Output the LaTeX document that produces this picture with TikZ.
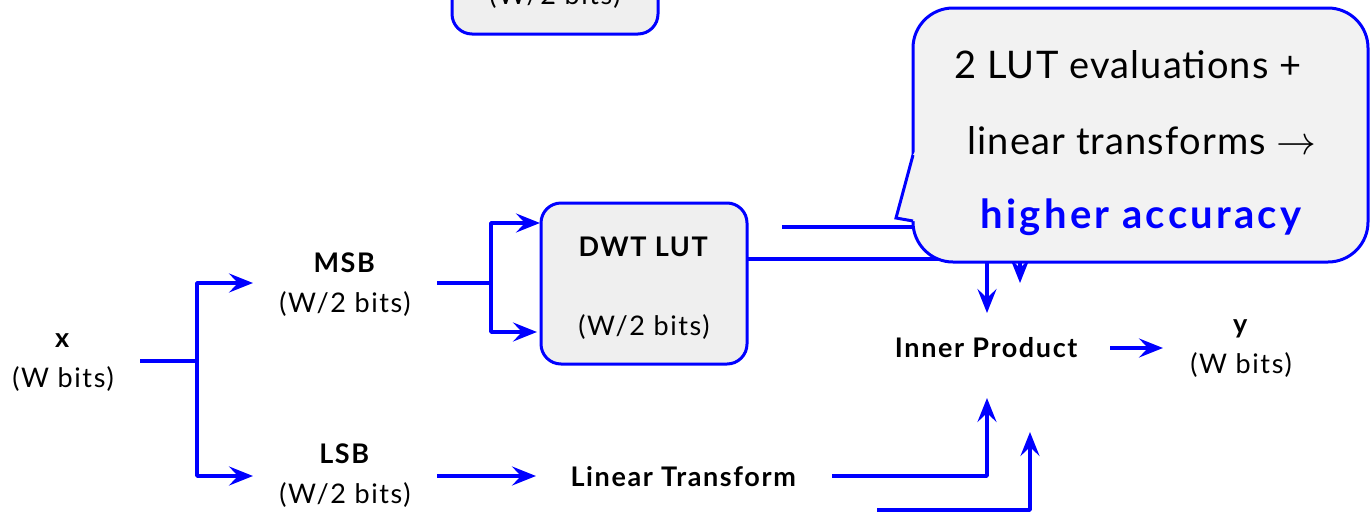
\documentclass[tikz,border=0pt]{standalone}
\usepackage{fontspec}
\setmainfont{Lato}
\newfontfamily\lblfont[LetterSpace=6]{Lato}
\newfontfamily\callfont[LetterSpace=3]{Lato}
\newfontfamily\callbold[LetterSpace=8]{Lato}
\usetikzlibrary{arrows.meta}
\definecolor{pblue}{RGB}{0,0,255}
\definecolor{boxgray}{RGB}{239,239,239}
\definecolor{callgray}{RGB}{242,242,242}
\tikzset{
  wire/.style={draw=pblue, line width=3.5pt, line join=round},
  arr/.style={wire, -{Stealth[length=24pt,width=19pt,inset=9pt]}},
  lbl/.style={align=center, inner sep=0pt, font=\lblfont\fontsize{27}{40}\selectfont},
  lutbox/.style={draw=pblue, line width=3pt, fill=boxgray, rounded corners=20pt,
    minimum width=206pt, minimum height=161pt, inner sep=0pt},
  calltxt/.style={inner sep=0pt, font=\callfont\fontsize{38}{40}\selectfont},
}
\newcommand{\bigarrowsym}{\scalebox{1.6}{\fontsize{24}{24}\selectfont$\rightarrow$}}
\begin{document}
\begin{tikzpicture}[x=1pt,y=-1pt]
\useasboundingbox (0,0) rectangle (1370,512);
\clip (0,0) rectangle (1370,512);
% nodes
\node[lbl] (x) at (63,363) {\textbf{x}\\(W bits)};
\node[lbl] (msb) at (345,285) {\textbf{MSB}\\(W/2 bits)};
\node[lbl] (lsb) at (345,476) {\textbf{LSB}\\(W/2 bits)};
\node[lutbox] (lut0) at (555,-46.5) {};
\node[lbl] at (555,-4) {(W/2 bits)};
\node[lutbox] (lut) at (644,283.5) {};
\node[lbl] (lutt) at (644,247) {\textbf{DWT LUT}};
\node[lbl] (lutb) at (644,327) {(W/2 bits)};
\node[lbl] (lin) at (684,477) {\textbf{Linear Transform}};
\node[lbl] (ip) at (987,348) {\textbf{Inner Product}};
\node[lbl] (y) at (1241,349) {\textbf{y}\\(W bits)};
% coordinates
\coordinate (xo) at (140,361);
\coordinate (s1) at (197,361);
\coordinate (msbin) at (253,283);
\coordinate (lsbin) at (253,476);
\coordinate (msbo) at (437,283);
\coordinate (s2) at (491,283);
\coordinate (lutin1) at (540,223);
\coordinate (lutin2) at (537,332);
\coordinate (lsbo) at (437,476);
\coordinate (linin) at (536,476);
\coordinate (luto) at (748,259);
\coordinate (ipt1) at (987,313);
\coordinate (u2) at (782,227);
\coordinate (ipt2) at (1020,283);
\coordinate (lino) at (832,476);
\coordinate (ipb1) at (987,398);
\coordinate (u3) at (877,510);
\coordinate (ipb2) at (1030,432);
\coordinate (ipo) at (1110,348);
\coordinate (yin) at (1163,348);
% connectors
\draw[wire] (xo) -- (s1);
\draw[arr] (s1) |- (msbin);
\draw[arr] (s1) |- (lsbin);
\draw[wire] (msbo) -- (s2);
\draw[arr] (s2) |- (lutin1);
\draw[arr] (s2) |- (lutin2);
\draw[arr] (lsbo) -- (linin);
\draw[arr] (luto) -| (ipt1);
\draw[arr] (u2) -| (ipt2);
\draw[arr] (lino) -| (ipb1);
\draw[arr] (u3) -| (ipb2);
\draw[arr] (ipo) -- (yin);
% callout
\node[draw=pblue, line width=3pt, fill=callgray, rounded corners=40pt,
  minimum width=455pt, minimum height=254pt, inner sep=0pt] (call) at (1140.5,135) {};
\fill[callgray] (916,150) -- (913,155) -- (896,218) -- (913,221) -- (916,221) -- cycle;
\draw[pblue, line width=3pt, line join=miter] (913,155) -- (896,218) -- (913,221);
\node[calltxt] (c1) at (1128,65) {2 LUT evaluations +};
\node[calltxt] (c2) at (1142,141) {linear transforms \bigarrowsym};
\node[inner sep=0pt, font=\callbold\fontsize{40}{40}\selectfont\bfseries, text=pblue] (c3) at (1141,217) {higher accuracy};
\end{tikzpicture}
\end{document}
